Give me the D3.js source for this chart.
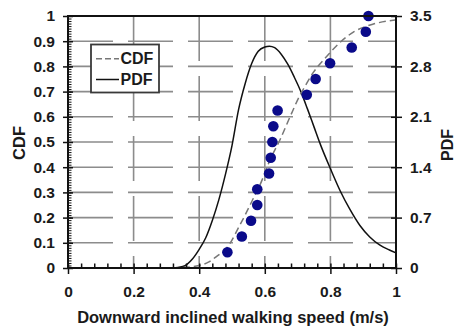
<!DOCTYPE html>
<html>
<head>
<meta charset="utf-8">
<script src="https://cdn.jsdelivr.net/npm/d3@7"></script>
<style>
  html, body { margin: 0; padding: 0; background: #fff; }
  svg { display: block; }
  text { font-family: "Liberation Sans", Arial, sans-serif; font-weight: bold; fill: #1a1a1a; }
</style>
</head>
<body>
<svg id="chart" width="456" height="327"></svg>
<script>
// Observed walking speeds (m/s) and their empirical cumulative probabilities
const speeds = [0.486, 0.530, 0.558, 0.577, 0.577, 0.613, 0.618, 0.623, 0.626, 0.639, 0.728, 0.755, 0.799, 0.865, 0.908, 0.916];
const empiricalCdf = [0.0625, 0.125, 0.1875, 0.25, 0.3125, 0.375, 0.4375, 0.5, 0.5625, 0.625, 0.6875, 0.75, 0.8125, 0.875, 0.9375, 1.0];

// Fitted CDF curve
const cdfX = [0.35, 0.40, 0.428, 0.448, 0.494, 0.519, 0.540, 0.560, 0.575, 0.585, 0.616, 0.646, 0.677, 0.707, 0.723, 0.748, 0.789, 0.829, 0.870, 0.931, 0.997];
const cdfY = [0.002, 0.01, 0.023, 0.041, 0.098, 0.158, 0.210, 0.263, 0.303, 0.329, 0.429, 0.508, 0.600, 0.685, 0.722, 0.776, 0.840, 0.895, 0.936, 0.968, 0.984];

// Fitted PDF curve
const pdfX = [0, 0.32, 0.35, 0.38, 0.40, 0.42, 0.44, 0.46, 0.48, 0.50, 0.52, 0.54, 0.56, 0.58, 0.60, 0.614, 0.63, 0.65, 0.67, 0.69, 0.71, 0.73, 0.75, 0.77, 0.80, 0.83, 0.86, 0.89, 0.92, 0.95, 0.98, 1.00];
const pdfY = [0, 0, 0.02, 0.13, 0.26, 0.42, 0.66, 0.95, 1.30, 1.70, 2.20, 2.56, 2.84, 3.01, 3.07, 3.08, 3.06, 2.97, 2.83, 2.65, 2.45, 2.21, 1.96, 1.71, 1.38, 1.07, 0.81, 0.59, 0.43, 0.32, 0.25, 0.21];

// Axis ticks and labels
const xTicks = [0, 0.2, 0.4, 0.6, 0.8, 1];
const xTickLabels = ["0", "0.2", "0.4", "0.6", "0.8", "1"];
const cdfTicks = [0, 0.1, 0.2, 0.3, 0.4, 0.5, 0.6, 0.7, 0.8, 0.9, 1];
const cdfTickLabels = ["0", "0.1", "0.2", "0.3", "0.4", "0.5", "0.6", "0.7", "0.8", "0.9", "1"];
const pdfTicks = [0, 0.7, 1.4, 2.1, 2.8, 3.5];
const pdfTickLabels = ["0", "0.7", "1.4", "2.1", "2.8", "3.5"];
const legendLabels = ["CDF", "PDF"];

const xTitle = "Downward inclined walking speed (m/s)";
const leftTitle = "CDF";
const rightTitle = "PDF";

const L = 68, R = 396, T = 16, B = 268;
const svg = d3.select("#chart");

const x = d3.scaleLinear().domain([0, 1]).range([L, R]);
const yL = d3.scaleLinear().domain([0, 1]).range([B, T]);
const yR = d3.scaleLinear().domain([0, 3.5]).range([B, T]);

// Grid: dashed grey lines
const grid = svg.append("g").attr("stroke", "#8c8c8c").attr("stroke-width", 1.6).attr("stroke-dasharray", "45,15");
grid.selectAll("line.h").data(cdfTicks.slice(1, -1)).join("line")
  .attr("x1", L).attr("x2", R).attr("y1", d => yL(d)).attr("y2", d => yL(d));
grid.selectAll("line.v").data(xTicks.slice(1, -1)).join("line")
  .attr("x1", d => x(d)).attr("x2", d => x(d)).attr("y1", T).attr("y2", B);

// Legend box (drawn over grid)
const legend = svg.append("g");
legend.append("rect").attr("x", 91).attr("y", 44.5).attr("width", 68).attr("height", 48)
  .attr("fill", "#fff").attr("stroke", "#3a3a3a").attr("stroke-width", 1.8);

// Curves
const lineCdf = d3.line().x(d => x(d[0])).y(d => yL(d[1])).curve(d3.curveMonotoneX);
const linePdf = d3.line().x(d => x(d[0])).y(d => yR(d[1])).curve(d3.curveMonotoneX);

svg.append("path").datum(d3.zip(pdfX, pdfY)).attr("d", linePdf)
  .attr("fill", "none").attr("stroke", "#111").attr("stroke-width", 1.5);
svg.append("path").datum(d3.zip(cdfX, cdfY)).attr("d", lineCdf)
  .attr("fill", "none").attr("stroke", "#777").attr("stroke-width", 1.5).attr("stroke-dasharray", "7,4");

// Empirical points
svg.append("g").selectAll("circle").data(d3.zip(speeds, empiricalCdf)).join("circle")
  .attr("cx", d => x(d[0])).attr("cy", d => yL(d[1])).attr("r", 5.3)
  .attr("fill", "#0a0a8a");

// Axes
function styleAxis(g) {
  g.select(".domain").remove();
  g.selectAll(".tick line").attr("stroke", "#111").attr("stroke-width", 1.5);
  g.selectAll(".tick text").attr("font-size", 15.5).style("font-weight", "bold").attr("fill", "#1a1a1a");
}

// left: labels + outward majors
svg.append("g").attr("transform", `translate(${L},0)`)
  .call(d3.axisLeft(yL).tickValues(cdfTicks).tickSize(5).tickPadding(8)
    .tickFormat((d, i) => cdfTickLabels[i]))
  .call(styleAxis);
// left: inward majors and dense minors
svg.append("g").attr("transform", `translate(${L},0)`)
  .call(d3.axisRight(yL).tickValues(cdfTicks).tickSize(5).tickFormat(""))
  .call(styleAxis);
svg.append("g").attr("transform", `translate(${L},0)`)
  .call(d3.axisRight(yL).tickValues(d3.range(0, 101).map(i => i / 100)).tickSize(3.5).tickFormat(""))
  .call(styleAxis).call(g => g.selectAll(".tick line").attr("stroke-width", 1));

// bottom
svg.append("g").attr("transform", `translate(0,${B})`)
  .call(d3.axisBottom(x).tickValues(xTicks).tickSize(6).tickPadding(12)
    .tickFormat((d, i) => xTickLabels[i]))
  .call(styleAxis);
svg.append("g").attr("transform", `translate(0,${B})`)
  .call(d3.axisTop(x).tickValues(d3.range(0, 26).map(i => i * 0.04)).tickSize(4.5).tickFormat(""))
  .call(styleAxis);

// right
svg.append("g").attr("transform", `translate(${R},0)`)
  .call(d3.axisRight(yR).tickValues(pdfTicks).tickSize(6).tickPadding(8)
    .tickFormat((d, i) => pdfTickLabels[i]))
  .call(styleAxis);
svg.append("g").attr("transform", `translate(${R},0)`)
  .call(d3.axisLeft(yR).tickValues(pdfTicks).tickSize(5).tickFormat(""))
  .call(styleAxis);

// Frame
svg.append("rect").attr("x", L).attr("y", T).attr("width", R - L).attr("height", B - T)
  .attr("fill", "none").attr("stroke", "#111").attr("stroke-width", 2);

// Legend entries
legend.append("line").attr("x1", 96).attr("x2", 119).attr("y1", 58.7).attr("y2", 58.7)
  .attr("stroke", "#777").attr("stroke-width", 1.5).attr("stroke-dasharray", "6,3");
legend.append("line").attr("x1", 96).attr("x2", 119).attr("y1", 79.5).attr("y2", 79.5)
  .attr("stroke", "#111").attr("stroke-width", 1.5);
legend.selectAll("text").data(legendLabels).join("text")
  .attr("x", 120.5).attr("y", (d, i) => 64.3 + i * 20.8)
  .attr("font-size", 16).text(d => d);

// Titles
svg.append("text").attr("x", 233).attr("y", 323).attr("text-anchor", "middle")
  .attr("font-size", 16.5).text(xTitle);
svg.append("text").attr("transform", "translate(25,143) rotate(-90)").attr("text-anchor", "middle")
  .attr("font-size", 16.5).text(leftTitle);
svg.append("text").attr("transform", "translate(453,145) rotate(-90)").attr("text-anchor", "middle")
  .attr("font-size", 16).text(rightTitle);
</script>
</body>
</html>
